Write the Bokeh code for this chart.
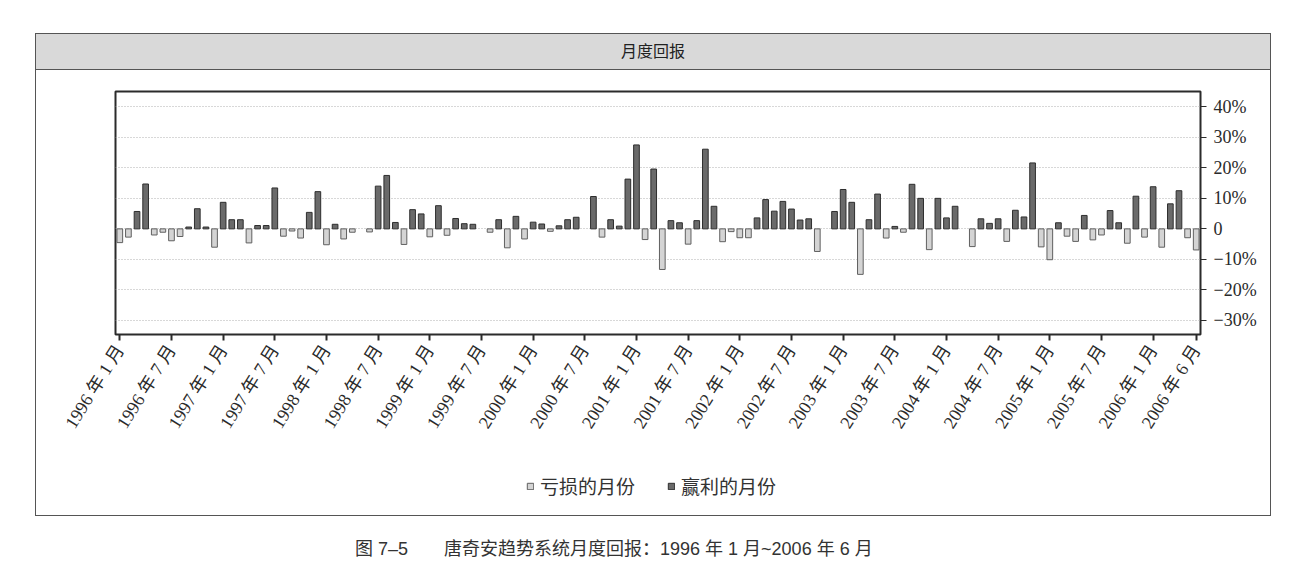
from bokeh.plotting import figure
from bokeh.layouts import column
from bokeh.models import (FixedTicker, LinearAxis, Legend, LegendItem, ColumnDataSource,
                          Range1d, Grid, Div)
from bokeh.embed import file_html
from bokeh.resources import INLINE

# Monthly returns (%), Jan 1996 .. Jun 2006
returns = [
    -4.5, -2.7, 5.7, 14.7, -2.0, -1.1, -3.9, -2.5, 0.6, 6.6, 0.6, -6.0,     # 1996
    8.7, 3.0, 3.0, -4.6, 1.1, 1.1, 13.4, -2.4, -0.7, -3.0, 5.4, 12.2,       # 1997
    -5.2, 1.5, -3.3, -1.1, 0.0, -1.0, 14.0, 17.5, 2.1, -5.1, 6.3, 4.9,      # 1998
    -2.6, 7.6, -2.1, 3.4, 1.7, 1.5, 0.0, -1.1, 3.0, -6.2, 4.1, -3.3,        # 1999
    2.2, 1.6, -0.8, 1.0, 3.0, 3.8, 0.0, 10.6, -2.7, 3.0, 0.9, 16.3,         # 2000
    27.5, -3.5, 19.6, -13.3, 2.7, 2.0, -5.0, 2.7, 26.1, 7.4, -4.2, -0.9,    # 2001
    -2.9, -2.9, 3.6, 9.6, 5.8, 9.0, 6.5, 2.9, 3.3, -7.4, 0.0, 5.7,          # 2002
    12.9, 8.7, -14.9, 3.0, 11.4, -3.0, 0.8, -1.1, 14.6, 10.0, -6.8, 10.0,   # 2003
    3.6, 7.4, 0.0, -5.8, 3.3, 1.8, 3.3, -4.1, 6.1, 3.9, 21.6, -5.9,         # 2004
    -10.1, 2.0, -2.4, -4.1, 4.4, -3.6, -2.0, 6.0, 2.0, -4.7, 10.7, -2.7,    # 2005
    13.8, -6.0, 8.2, 12.5, -2.9, -6.9,                                      # 2006
]
months = list(range(len(returns)))
month_labels = [f"{1996 + i // 12} 年 {i % 12 + 1} 月" for i in months]
x_tick_idx = list(range(0, len(returns), 6)) + [len(returns) - 1]
y_ticks = [-30, -20, -10, 0, 10, 20, 30, 40]
y_tick_labels = ["−30%", "−20%", "−10%", "0", "10%", "20%", "30%", "40%"]
legend_labels = ["亏损的月份", "赢利的月份"]
header_text = "月度回报"
caption_text = "图 7–5　　唐奇安趋势系统月度回报：1996 年 1 月~2006 年 6 月"

LOSS_FILL, LOSS_LINE = "#d4d4d4", "#606060"
WIN_FILL, WIN_LINE = "#6a6a6a", "#2e2e2e"

loss_src = ColumnDataSource(dict(x=[i for i in months if returns[i] < 0],
                                 top=[r for r in returns if r < 0]))
win_src = ColumnDataSource(dict(x=[i for i in months if returns[i] > 0],
                                top=[r for r in returns if r > 0]))

serif = "'Liberation Serif', 'Noto Sans CJK SC'"
sans = "'Liberation Sans', 'Noto Sans CJK SC'"
BOX_W = 1236
BORDER = "1px solid #555555"

header = Div(text=header_text, width=BOX_W, height=37, margin=(33, 0, 0, 35),
             styles={"background-color": "#d9d9d9", "border": BORDER,
                     "box-sizing": "border-box", "text-align": "center",
                     "line-height": "35px", "font-family": sans,
                     "font-size": "16px", "color": "#222222"})

x_rng = Range1d(-0.5, len(returns) - 0.5)
p = figure(width=BOX_W, height=400, output_backend="svg", toolbar_location=None,
           x_range=x_rng, y_range=Range1d(-34.6, 45),
           x_axis_location=None, y_axis_location=None,
           min_border_left=79, min_border_right=72,
           min_border_top=21, min_border_bottom=136, margin=(0, 0, 0, 35))
p.styles = {"border-left": BORDER, "border-right": BORDER}
p.title.visible = False
for g in list(p.grid):
    g.visible = False
p.outline_line_color = "#2b2b2b"
p.outline_line_width = 2
p.background_fill_color = "white"
p.border_fill_color = "white"

p.add_layout(Grid(dimension=1, ticker=FixedTicker(ticks=y_ticks),
                  grid_line_color="#b0b0b0", grid_line_dash="1 2",
                  grid_line_width=1))

p.vbar(x="x", top="top", bottom=0, width=0.66, source=loss_src,
       fill_color=LOSS_FILL, line_color=LOSS_LINE, line_width=1)
p.vbar(x="x", top="top", bottom=0, width=0.66, source=win_src,
       fill_color=WIN_FILL, line_color=WIN_LINE, line_width=1)

xax = LinearAxis(ticker=FixedTicker(ticks=x_tick_idx),
                 major_label_overrides={i: month_labels[i] for i in x_tick_idx},
                 major_label_orientation=1.01,
                 major_label_text_font=serif, major_label_text_font_size="18px",
                 major_label_text_color="#2a2a2a", major_label_standoff=6,
                 major_tick_out=6, major_tick_in=0, major_tick_line_color="#2b2b2b",
                 major_tick_line_width=2,
                 minor_tick_line_color=None, axis_line_color=None)
p.add_layout(xax, "below")

yax = LinearAxis(ticker=FixedTicker(ticks=y_ticks),
                 major_label_overrides=dict(zip(y_ticks, y_tick_labels)),
                 major_label_text_font=serif, major_label_text_font_size="18px",
                 major_label_text_color="#2a2a2a", major_label_standoff=7,
                 major_tick_out=6, major_tick_in=0, major_tick_line_color="#2b2b2b",
                 major_tick_line_width=1,
                 minor_tick_line_color=None, axis_line_color=None)
p.add_layout(yax, "right")

# legend strip inside the outer box; its renderers reuse the same data,
# with a y window far above the bars, so only the legend keys are shown
lf = figure(width=BOX_W, height=46, output_backend="svg", toolbar_location=None,
            x_range=x_rng, y_range=Range1d(1000, 1001),
            x_axis_location=None, y_axis_location=None,
            min_border_left=0, min_border_right=0, min_border_top=0,
            min_border_bottom=0, margin=(0, 0, 0, 35))
lf.styles = {"border-left": BORDER, "border-right": BORDER, "border-bottom": BORDER}
lf.title.visible = False
for g in list(lf.grid):
    g.visible = False
lf.outline_line_color = None
lf.background_fill_color = "white"
lf.border_fill_color = "white"
k_loss = lf.vbar(x="x", top="top", bottom=0, width=0.66, source=loss_src,
                 fill_color=LOSS_FILL, line_color=LOSS_LINE, line_width=1)
k_win = lf.vbar(x="x", top="top", bottom=0, width=0.66, source=win_src,
                fill_color=WIN_FILL, line_color=WIN_LINE, line_width=1)
legend = Legend(items=[LegendItem(label=legend_labels[0], renderers=[k_loss]),
                       LegendItem(label=legend_labels[1], renderers=[k_win])],
                location=(411, 17), orientation="horizontal", padding=0, margin=0,
                spacing=32, glyph_width=8, glyph_height=8, label_standoff=6,
                label_height=18, label_text_font=sans, label_text_font_size="19px",
                label_text_color="#333333", border_line_color=None,
                background_fill_alpha=0)
lf.add_layout(legend, "center")

caption = Div(text=caption_text, width=700, height=30, margin=(20, 0, 0, 355),
              styles={"font-family": sans, "font-size": "18px", "color": "#333333",
                      "white-space": "nowrap", "line-height": "26px"})

root = column(header, p, lf, caption, spacing=0)
open("out.html", "w").write(file_html(root, INLINE))
